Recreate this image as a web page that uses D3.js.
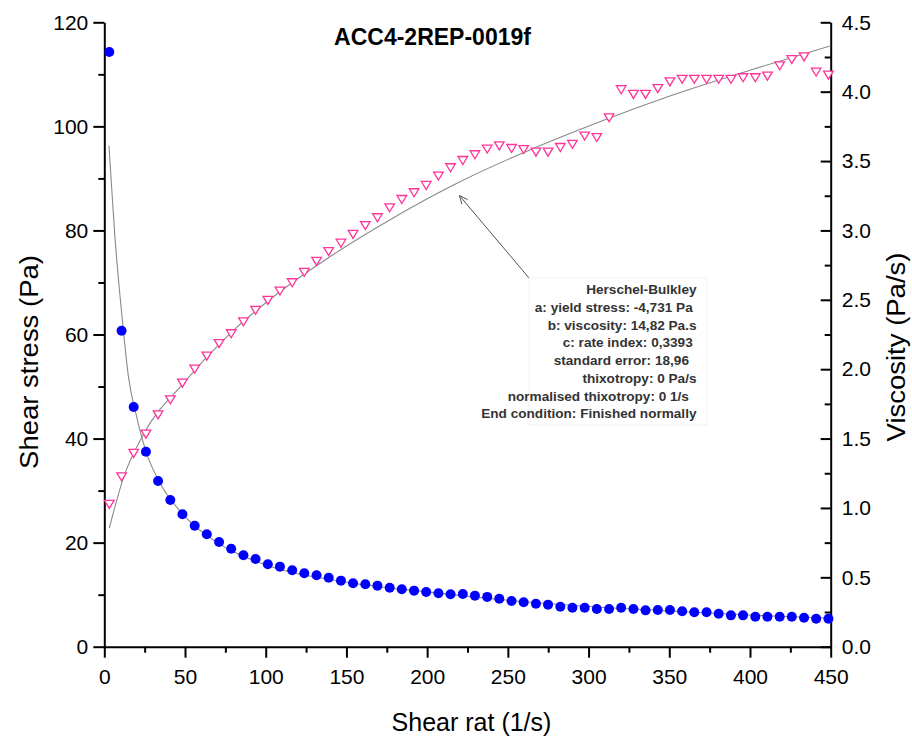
<!DOCTYPE html>
<html>
<head>
<meta charset="utf-8">
<script src="https://cdn.jsdelivr.net/npm/d3@7"></script>
<style>
  html, body { margin: 0; padding: 0; background: #fff; }
  svg { display: block; }
  text { font-family: "Liberation Sans", Arial, sans-serif; }
</style>
</head>
<body>
<script>
// Shear-rate sweep: measured shear stress (left axis) and viscosity (right axis)
const shearRate = [3.1, 10.7, 18.2, 25.8, 33.3, 40.9, 48.4, 56.0, 63.5, 71.1,
  78.6, 86.2, 93.7, 101.3, 108.8, 116.4, 123.9, 131.5, 139.0, 146.6,
  154.1, 161.7, 169.2, 176.8, 184.3, 191.9, 199.4, 207.0, 214.5, 222.1,
  229.6, 237.2, 244.7, 252.3, 259.8, 267.4, 274.9, 282.5, 290.0, 297.6,
  305.1, 312.7, 320.2, 327.8, 335.3, 342.9, 350.4, 358.0, 365.5, 373.1,
  380.6, 388.2, 395.7, 403.3, 410.8, 418.4, 425.9, 433.5, 441.0, 448.6];

const shearStress = [27.4, 32.7, 37.2, 40.9, 44.6, 47.5, 50.7, 53.4, 55.9, 58.3,
  60.2, 62.5, 64.7, 66.6, 68.4, 70.0, 72.0, 74.1, 76.0, 77.6,
  79.3, 81.0, 82.5, 84.4, 86.0, 87.3, 88.7, 90.5, 92.1, 93.5,
  94.6, 95.7, 96.3, 95.8, 95.6, 95.1, 95.1, 96.0, 96.6, 98.2,
  97.9, 101.7, 107.1, 106.2, 106.2, 107.3, 108.6, 109.1, 109.1, 109.1,
  109.1, 109.1, 109.4, 109.4, 109.7, 111.7, 112.9, 113.4, 110.5, 109.9];

const viscosity = [4.286, 2.277, 1.727, 1.405, 1.194, 1.057, 0.955, 0.872, 0.810, 0.755,
  0.706, 0.659, 0.632, 0.594, 0.577, 0.551, 0.529, 0.515, 0.497, 0.476,
  0.457, 0.450, 0.440, 0.425, 0.414, 0.404, 0.394, 0.385, 0.378, 0.380,
  0.368, 0.359, 0.346, 0.329, 0.320, 0.310, 0.303, 0.288, 0.281, 0.281,
  0.272, 0.272, 0.281, 0.272, 0.262, 0.264, 0.264, 0.255, 0.248, 0.248,
  0.238, 0.226, 0.226, 0.216, 0.216, 0.216, 0.216, 0.209, 0.202, 0.202];

// Herschel-Bulkley model curves as plotted
const stressFitRate = [3.1, 12, 24, 49, 79, 110, 140, 180, 220, 260, 307, 350, 400, 450];
const stressFit = [22.8, 32.6, 40.7, 50.6, 60.5, 68.5, 75.0, 82.6, 89.3, 95.0, 100.9, 105.8, 110.8, 115.5];
const viscFitRate = [2.9, 4.6, 6.6, 9.3, 11.8, 14.9, 20, 26, 34.5, 49, 70, 100, 150, 200, 250, 300, 350, 400, 450];
const viscFit = [3.61, 3.30, 2.95, 2.58, 2.28, 1.95, 1.66, 1.40, 1.18, 0.95, 0.75, 0.59, 0.465, 0.395, 0.335, 0.29, 0.258, 0.228, 0.205];

// Axis ticks
const xMajor = [0, 50, 100, 150, 200, 250, 300, 350, 400, 450];
const xMinor = [25, 75, 125, 175, 225, 275, 325, 375, 425];
const yLeftMajor = [0, 20, 40, 60, 80, 100, 120];
const yLeftMinor = [10, 30, 50, 70, 90, 110];
const yRightMajor = [0, 0.5, 1.0, 1.5, 2.0, 2.5, 3.0, 3.5, 4.0, 4.5];
const yRightMinor = [0.25, 0.75, 1.25, 1.75, 2.25, 2.75, 3.25, 3.75, 4.25];

const title = "ACC4-2REP-0019f";
const xTitle = "Shear rat (1/s)";
const yLeftTitle = "Shear stress (Pa)";
const yRightTitle = "Viscosity (Pa/s)";
const fitLines = [
  "Herschel-Bulkley",
  "a: yield stress: -4,731 Pa ",
  "b: viscosity: 14,82 Pa.s",
  "c: rate index: 0,3393 ",
  "standard error: 18,96  ",
  "thixotropy: 0 Pa/s",
  "normalised thixotropy: 0 1/s  ",
  "End condition: Finished normally"
];
const arrowTip = { rate: 220, stress: 86.7 };

const W = 912, H = 740;
const plot = { left: 104.3, right: 830.7, top: 22.3, bottom: 646.7 };

const svg = d3.select("body").append("svg")
  .attr("width", W).attr("height", H)
  .attr("viewBox", `0 0 ${W} ${H}`);
svg.append("rect").attr("width", W).attr("height", H).attr("fill", "#fff");

const x = d3.scaleLinear().domain([0, 450]).range([plot.left, plot.right]);
const yL = d3.scaleLinear().domain([0, 120]).range([plot.bottom, plot.top]);
const yR = d3.scaleLinear().domain([0, 4.5]).range([plot.bottom, plot.top]);

// ---- axes ----
function styleAxis(g) {
  g.selectAll("path.domain").attr("stroke", "#000").attr("stroke-width", 2);
  g.selectAll(".tick line").attr("stroke", "#000").attr("stroke-width", 2);
  g.selectAll(".tick text").attr("fill", "#000").style("font-size", "21px")
    .style("font-family", '"Liberation Sans", Arial, sans-serif');
}

// bottom
svg.append("g").attr("transform", `translate(0,${plot.bottom})`)
  .call(d3.axisBottom(x).tickValues(xMinor).tickSize(6).tickSizeOuter(0).tickFormat(""))
  .call(g => g.select(".domain").remove()).call(styleAxis);
svg.append("g").attr("transform", `translate(0,${plot.bottom})`)
  .call(d3.axisBottom(x).tickValues(xMajor).tickSize(11).tickSizeOuter(0).tickPadding(11).tickFormat(d3.format("d")))
  .call(styleAxis);

// left
svg.append("g").attr("transform", `translate(${plot.left},0)`)
  .call(d3.axisLeft(yL).tickValues(yLeftMinor).tickSize(6).tickSizeOuter(0).tickFormat(""))
  .call(g => g.select(".domain").remove()).call(styleAxis);
svg.append("g").attr("transform", `translate(${plot.left},0)`)
  .call(d3.axisLeft(yL).tickValues(yLeftMajor).tickSize(11).tickSizeOuter(0).tickPadding(5).tickFormat(d3.format("d")))
  .call(styleAxis);

// right (ticks point inward)
svg.append("g").attr("transform", `translate(${plot.right},0)`)
  .call(d3.axisRight(yR).tickValues(yRightMinor).tickSize(-6).tickSizeOuter(0).tickFormat(""))
  .call(g => g.select(".domain").remove()).call(styleAxis);
svg.append("g").attr("transform", `translate(${plot.right},0)`)
  .call(d3.axisRight(yR).tickValues(yRightMajor).tickSize(-10).tickSizeOuter(0).tickPadding(11).tickFormat(d3.format(".1f")))
  .call(styleAxis);

// ---- model curves ----
const stressLine = d3.line().curve(d3.curveMonotoneX)
  .x((d, i) => x(stressFitRate[i])).y(d => yL(d));
const viscLine = d3.line().curve(d3.curveMonotoneX)
  .x((d, i) => x(viscFitRate[i])).y(d => yR(d));

svg.append("path").attr("d", stressLine(stressFit))
  .attr("fill", "none").attr("stroke", "#8a8a8a").attr("stroke-width", 1.1);
svg.append("path").attr("d", viscLine(viscFit))
  .attr("fill", "none").attr("stroke", "#8a8a8a").attr("stroke-width", 1.1);

// ---- measured points ----
const tri = "M-4.8,-3.7L4.8,-3.7L0,4.3Z";
svg.append("g").selectAll("path").data(shearStress).join("path")
  .attr("d", tri)
  .attr("transform", (d, i) => `translate(${x(shearRate[i])},${yL(d)})`)
  .attr("fill", "#fff").attr("stroke", "#ff3399").attr("stroke-width", 1.3);

svg.append("g").selectAll("circle").data(viscosity).join("circle")
  .attr("cx", (d, i) => x(shearRate[i])).attr("cy", d => yR(d))
  .attr("r", 5).attr("fill", "#0000ff");

// ---- annotation ----
const box = { x0: 529, y0: 278, x1: 707, y1: 425 };
const tip = [x(arrowTip.rate), yL(arrowTip.stress)];
svg.append("line")
  .attr("x1", box.x0).attr("y1", box.y0).attr("x2", tip[0]).attr("y2", tip[1])
  .attr("stroke", "#555").attr("stroke-width", 1);
{
  const ang = Math.atan2(box.y0 - tip[1], box.x0 - tip[0]);
  const L = 9, spread = 0.42;
  const p1 = [tip[0] + L * Math.cos(ang - spread), tip[1] + L * Math.sin(ang - spread)];
  const p2 = [tip[0] + L * Math.cos(ang + spread), tip[1] + L * Math.sin(ang + spread)];
  svg.append("path")
    .attr("d", `M${p1[0]},${p1[1]}L${tip[0]},${tip[1]}L${p2[0]},${p2[1]}`)
    .attr("fill", "none").attr("stroke", "#555").attr("stroke-width", 1);
}
svg.append("rect")
  .attr("x", box.x0).attr("y", box.y0)
  .attr("width", box.x1 - box.x0).attr("height", box.y1 - box.y0)
  .attr("fill", "#fff").attr("stroke", "#f2f2f2").attr("stroke-width", 1);

svg.append("g").selectAll("text").data(fitLines).join("text")
  .attr("x", 696.5).attr("y", (d, i) => 294 + i * 17.75)
  .attr("text-anchor", "end")
  .style("white-space", "pre")
  .style("font-size", "13.6px").style("font-weight", "bold")
  .attr("fill", "#333")
  .text(d => d);

// ---- titles ----
svg.append("text").attr("x", 432.5).attr("y", 45)
  .attr("text-anchor", "middle")
  .style("font-size", "23px").style("font-weight", "bold")
  .text(title);

svg.append("text").attr("x", 471.5).attr("y", 731)
  .attr("text-anchor", "middle")
  .style("font-size", "25px")
  .text(xTitle);

svg.append("text")
  .attr("transform", "translate(38,362) rotate(-90) scale(1.1,1)")
  .attr("text-anchor", "middle")
  .style("font-size", "25px")
  .text(yLeftTitle);

svg.append("text")
  .attr("transform", "translate(905,347) rotate(-90) scale(1.1,1)")
  .attr("text-anchor", "middle")
  .style("font-size", "25px")
  .text(yRightTitle);
</script>
</body>
</html>
